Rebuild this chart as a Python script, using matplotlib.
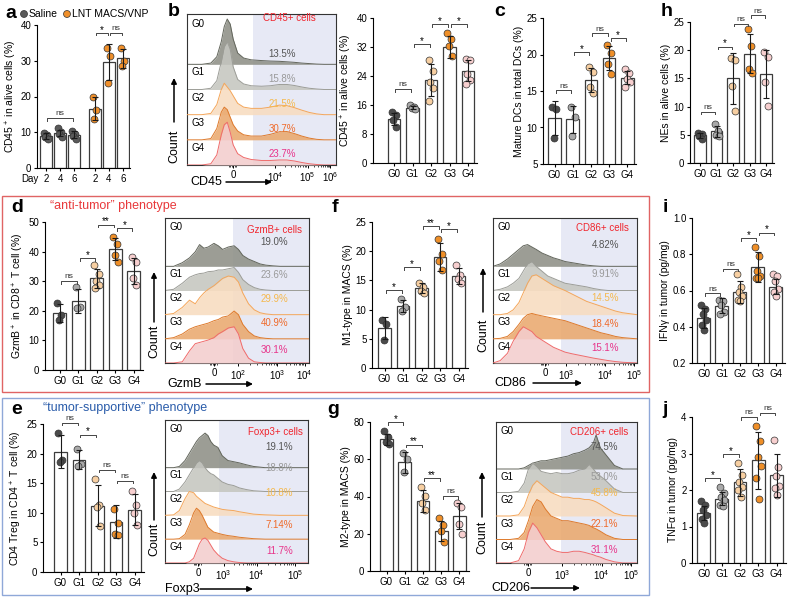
import numpy as np
import matplotlib

matplotlib.use("Agg")
import matplotlib.pyplot as plt

plt.rcParams["font.family"] = ["Liberation Sans", "DejaVu Sans"]
plt.rcParams["mathtext.default"] = "regular"
plt.rcParams["axes.linewidth"] = 0.8

W, H = 790, 597
GROUPS = ["G0", "G1", "G2", "G3", "G4"]

# ---- bar chart data ----
A_LABELS = ["2", "4", "6", "2", "4", "6"]
A_MEAN = [9.0, 9.8, 9.3, 16.6, 29.6, 30.7]
A_SD = [0.8, 0.9, 1.0, 3.2, 5.1, 2.6]
A_PTS = [[9.9, 9.3, 8.6, 8.2], [11.2, 10.2, 9.4, 8.7], [10.3, 9.6, 9.0, 8.2],
         [20.0, 16.1, 13.7], [33.7, 31.3, 23.8], [33.5, 30.0, 28.6]]
A_SIG = [(0, 2, 14.0, "ns"), (3, 4, 37.8, "*"), (4, 5, 37.8, "ns")]

B_MEAN = [12.2, 15.3, 22.9, 31.9, 25.5]
B_SD = [1.6, 0.5, 4.3, 3.0, 3.0]
B_PTS = [[14.0, 13.3, 12.0, 9.9], [15.9, 15.5, 15.2, 14.8],
         [28.3, 25.5, 22.3, 20.7, 17.2], [36.0, 34.2, 32.4, 29.6],
         [28.7, 28.4, 24.6, 22.8, 21.8]]
B_SIG = [(0, 1, 20.4, "ns"), (1, 2, 32.8, "*"), (2, 3, 38.3, "*"), (3, 4, 38.3, "*")]

C_MEAN = [11.3, 11.1, 16.5, 19.5, 16.8]
C_SD = [2.3, 1.9, 1.7, 1.6, 0.9]
C_PTS = [[12.8, 12.5, 8.6], [12.8, 11.5, 8.8], [18.3, 17.6, 15.6, 14.7],
         [21.3, 20.2, 18.7, 17.3], [18.0, 17.4, 16.6, 16.2, 15.6]]
C_SIG = [(0, 1, 15.1, "ns"), (1, 2, 20.3, "*"), (2, 3, 22.9, "ns"), (3, 4, 22.2, "*")]

HN_MEAN = [4.9, 5.6, 15.0, 19.4, 15.8]
HN_SD = [0.5, 1.0, 4.5, 3.5, 4.3]
HN_PTS = [[5.4, 5.1, 4.8, 4.2], [6.9, 5.6, 5.0, 4.8], [18.6, 18.3, 13.7, 9.2],
          [23.7, 20.8, 16.7, 16.0], [19.6, 18.8, 14.4, 10.1]]
HN_SIG = [(0, 1, 9.1, "ns"), (1, 2, 20.6, "*"), (2, 3, 24.7, "ns"), (3, 4, 26.2, "ns")]

D_MEAN = [19.3, 23.4, 31.0, 40.8, 33.4]
D_SD = [3.0, 4.0, 3.2, 3.8, 4.5]
D_PTS = [[22.5, 18.6, 16.8], [28.2, 21.4, 20.8], [35.5, 32.6, 30.0, 28.8, 27.8],
         [45.1, 42.6, 38.9, 36.5], [38.3, 36.6, 31.2, 28.6]]
D_SIG = [(0, 1, 30.1, "ns"), (1, 2, 37.8, "*"), (2, 3, 49.1, "**"), (3, 4, 48.0, "*")]

F_MEAN = [6.8, 10.6, 13.7, 19.0, 15.7]
F_SD = [1.9, 1.0, 0.9, 2.4, 1.4]
F_PTS = [[8.2, 7.6, 4.8], [11.8, 10.4, 9.7], [14.6, 13.9, 13.2, 12.8],
         [22.1, 19.5, 18.4, 16.8], [17.6, 15.9, 15.2, 14.6]]
F_SIG = [(0, 1, 13.3, "*"), (1, 2, 17.3, "*"), (2, 3, 24.3, "**"), (3, 4, 23.8, "*")]

I_MEAN = [0.450, 0.516, 0.592, 0.730, 0.622]
I_SD = [0.055, 0.04, 0.06, 0.085, 0.04]
I_PTS = [[0.52, 0.50, 0.47, 0.44, 0.41, 0.38], [0.55, 0.54, 0.52, 0.48, 0.47],
         [0.69, 0.62, 0.59, 0.57, 0.55, 0.54], [0.84, 0.79, 0.71, 0.68, 0.67, 0.67],
         [0.69, 0.68, 0.65, 0.61, 0.59, 0.57]]
I_SIG = [(0, 1, 0.585, "ns"), (1, 2, 0.72, "ns"), (2, 3, 0.89, "*"), (3, 4, 0.92, "*")]

E_MEAN = [20.3, 19.0, 11.2, 8.5, 10.5]
E_SD = [2.8, 1.6, 3.5, 2.8, 2.6]
E_PTS = [[23.4, 19.0, 18.5], [20.7, 18.3, 17.9], [15.7, 11.4, 11.0, 7.8],
         [10.7, 8.3, 6.5, 6.2], [13.7, 11.3, 10.0, 8.0]]
E_SIG = [(0, 1, 25.2, "ns"), (1, 2, 23.2, "*"), (2, 3, 17.3, "ns"), (3, 4, 15.4, "ns")]

G_MEAN = [70.8, 58.3, 37.5, 21.5, 29.5]
G_SD = [3.0, 5.5, 6.0, 5.5, 7.0]
G_PTS = [[75.0, 72.0, 69.5, 68.0], [63.3, 60.0, 53.4], [45.0, 40.5, 36.5, 33.0],
         [28.5, 24.5, 21.5, 15.5], [36.3, 34.5, 25.5, 20.0]]
G_SIG = [(0, 1, 79.9, "*"), (1, 2, 67.8, "**"), (2, 3, 49.8, "**"), (3, 4, 40.3, "ns")]

J_MEAN = [1.37, 1.76, 2.21, 2.81, 2.40]
J_SD = [0.20, 0.18, 0.37, 0.78, 0.60]
J_PTS = [[1.70, 1.58, 1.45, 1.32, 1.20, 1.10], [2.08, 1.92, 1.80, 1.72, 1.60, 1.55],
         [2.74, 2.40, 2.22, 2.08, 2.00, 1.80], [3.74, 3.33, 2.90, 2.65, 2.34, 1.75],
         [3.36, 2.62, 2.38, 2.12, 2.06, 1.85]]
J_SIG = [(0, 1, 2.33, "*"), (1, 2, 2.98, "*"), (2, 3, 4.0, "ns"), (3, 4, 4.12, "ns")]

# ---- flow histogram data (row heights, in row units) ----
HB_X = [0.00, 0.10, 0.16, 0.20, 0.23, 0.25, 0.27, 0.29, 0.31, 0.34, 0.38, 0.43,
        0.50, 0.56, 0.62, 0.67, 0.72, 0.77, 0.82, 0.87, 0.92, 0.96, 1.00]
HB_ROWS = [
    [0, 0, 0.05, 0.3, 0.9, 1.5, 1.8, 1.6, 1.0, 0.45, 0.25, 0.18, 0.15, 0.13, 0.12, 0.1, 0.08, 0.05, 0.03, 0.01, 0, 0, 0],
    [0, 0, 0.05, 0.35, 1.1, 1.7, 1.9, 1.6, 0.9, 0.4, 0.22, 0.15, 0.13, 0.15, 0.2, 0.2, 0.16, 0.1, 0.05, 0.02, 0, 0, 0],
    [0, 0, 0.05, 0.4, 1.0, 1.25, 1.1, 0.95, 0.75, 0.45, 0.3, 0.25, 0.25, 0.3, 0.38, 0.36, 0.28, 0.18, 0.09, 0.03, 0, 0, 0],
    [0, 0, 0.05, 0.45, 1.1, 1.3, 1.2, 0.9, 0.6, 0.35, 0.2, 0.15, 0.15, 0.22, 0.32, 0.33, 0.25, 0.15, 0.07, 0.02, 0, 0, 0],
    [0, 0, 0.05, 0.4, 1.2, 1.6, 1.7, 1.3, 0.8, 0.45, 0.3, 0.22, 0.18, 0.18, 0.2, 0.2, 0.16, 0.1, 0.05, 0.02, 0, 0, 0],
]
HB_PCT = ["13.5%", "15.8%", "21.5%", "30.7%", "23.7%"]

HD_X = [0, 0.06, 0.12, 0.17, 0.21, 0.24, 0.27, 0.30, 0.34, 0.37, 0.40, 0.44,
        0.48, 0.51, 0.54, 0.58, 0.62, 0.66, 0.70, 0.75, 0.80, 0.90, 1.0]
HD_ROWS = [
    [0, 0, 0.15, 0.35, 0.6, 0.9, 0.75, 0.8, 0.95, 0.85, 0.7, 0.8, 0.85, 0.7, 0.45, 0.3, 0.2, 0.1, 0.05, 0.02, 0, 0, 0],
    [0, 0.05, 0.3, 0.55, 0.65, 0.7, 0.72, 0.78, 0.8, 0.85, 0.85, 0.9, 0.95, 0.75, 0.45, 0.25, 0.12, 0.05, 0.02, 0, 0, 0, 0],
    [0, 0.05, 0.3, 0.6, 0.45, 0.7, 0.9, 1.05, 1.2, 1.35, 1.5, 1.6, 1.55, 1.35, 0.9, 0.45, 0.2, 0.08, 0.03, 0, 0, 0, 0],
    [0, 0.05, 0.2, 0.4, 0.5, 0.55, 0.6, 0.65, 0.75, 0.8, 0.9, 0.95, 1.15, 1.0, 0.6, 0.3, 0.12, 0.05, 0.02, 0, 0, 0, 0],
    [0, 0, 0.05, 0.5, 0.8, 0.85, 0.9, 0.95, 1.05, 1.2, 1.3, 1.45, 1.5, 1.2, 0.6, 0.2, 0.05, 0.02, 0, 0, 0, 0, 0],
]
HD_PCT = ["19.0%", "23.6%", "29.9%", "40.9%", "30.1%"]

HF_X = [0, 0.05, 0.10, 0.14, 0.18, 0.21, 0.24, 0.27, 0.30, 0.34, 0.38, 0.42,
        0.46, 0.50, 0.55, 0.60, 0.65, 0.70, 0.75, 0.80, 0.85, 0.90, 1.0]
HF_ROWS = [
    [0, 0.1, 0.3, 0.5, 0.7, 0.85, 0.9, 0.8, 0.7, 0.55, 0.45, 0.35, 0.28, 0.2, 0.15, 0.1, 0.05, 0.02, 0, 0, 0, 0, 0],
    [0, 0.05, 0.15, 0.3, 0.5, 0.8, 1.1, 1.2, 1.0, 0.8, 0.6, 0.5, 0.4, 0.3, 0.25, 0.2, 0.15, 0.08, 0.03, 0, 0, 0, 0],
    [0, 0, 0.05, 0.2, 0.5, 0.9, 1.3, 1.6, 1.65, 1.5, 1.35, 1.2, 1.1, 1.0, 0.85, 0.7, 0.55, 0.45, 0.35, 0.25, 0.15, 0.08, 0],
    [0, 0.02, 0.1, 0.3, 0.6, 0.85, 1.0, 1.05, 1.0, 0.95, 0.9, 0.85, 0.8, 0.75, 0.65, 0.55, 0.45, 0.35, 0.25, 0.18, 0.1, 0.05, 0],
    [0, 0.1, 0.4, 0.9, 1.3, 1.5, 1.4, 1.3, 1.1, 0.95, 0.8, 0.65, 0.55, 0.45, 0.38, 0.32, 0.26, 0.2, 0.15, 0.1, 0.06, 0.03, 0],
]
HF_PCT = ["4.82%", "9.91%", "14.5%", "18.4%", "15.1%"]

HE_X = [0, 0.06, 0.10, 0.14, 0.17, 0.20, 0.22, 0.24, 0.26, 0.28, 0.30, 0.32,
        0.34, 0.37, 0.40, 0.44, 0.48, 0.52, 0.57, 0.62, 0.70, 0.80, 1.0]
HE_ROWS = [
    [0, 0, 0.05, 0.3, 0.6, 0.9, 1.1, 1.25, 1.35, 1.45, 1.35, 1.1, 0.95, 0.85, 0.5, 0.3, 0.25, 0.2, 0.12, 0.05, 0, 0, 0],
    [0, 0, 0.1, 0.4, 0.7, 1.0, 1.2, 1.3, 1.2, 1.0, 0.85, 0.75, 0.7, 0.55, 0.4, 0.3, 0.25, 0.15, 0.08, 0.03, 0, 0, 0],
    [0, 0.02, 0.2, 0.7, 1.0, 0.95, 0.8, 0.7, 0.6, 0.5, 0.45, 0.4, 0.35, 0.3, 0.25, 0.22, 0.2, 0.15, 0.1, 0.05, 0.02, 0, 0],
    [0, 0, 0.02, 0.2, 0.6, 1.1, 1.3, 1.2, 1.0, 0.75, 0.5, 0.4, 0.3, 0.25, 0.2, 0.15, 0.12, 0.08, 0.05, 0.02, 0, 0, 0],
    [0, 0, 0, 0, 0.05, 0.2, 0.5, 0.8, 1.0, 1.05, 0.95, 0.75, 0.55, 0.35, 0.2, 0.1, 0.05, 0.02, 0, 0, 0, 0, 0],
]
HE_PCT = ["19.1%", "18.8%", "10.8%", "7.14%", "11.7%"]

HG_X = [0, 0.10, 0.16, 0.20, 0.23, 0.26, 0.29, 0.32, 0.35, 0.39, 0.43, 0.47,
        0.51, 0.55, 0.59, 0.63, 0.66, 0.69, 0.71, 0.74, 0.78, 0.84, 0.90, 1.0]
HG_ROWS = [
    [0, 0, 0, 0.05, 0.15, 0.25, 0.3, 0.35, 0.35, 0.4, 0.45, 0.5, 0.55, 0.65, 0.7, 0.8, 0.9, 1.1, 1.45, 0.9, 0.6, 0.15, 0, 0],
    [0, 0, 0.05, 0.4, 1.0, 1.25, 1.1, 0.9, 0.85, 0.8, 0.85, 0.8, 0.8, 0.85, 0.95, 1.0, 1.2, 1.0, 0.85, 0.7, 0.5, 0.15, 0, 0],
    [0, 0, 0.05, 0.4, 0.9, 1.3, 1.5, 1.35, 1.2, 1.0, 0.9, 0.8, 0.8, 0.75, 0.75, 0.7, 0.7, 0.65, 0.6, 0.5, 0.35, 0.12, 0.02, 0],
    [0, 0, 0.05, 0.3, 0.8, 1.4, 1.7, 1.6, 1.3, 1.0, 0.9, 0.8, 0.8, 0.75, 0.7, 0.65, 0.6, 0.5, 0.45, 0.35, 0.2, 0.05, 0, 0],
    [0, 0, 0.1, 0.6, 1.3, 1.7, 1.5, 1.2, 0.9, 0.6, 0.5, 0.45, 0.45, 0.5, 0.5, 0.45, 0.4, 0.35, 0.3, 0.25, 0.15, 0.05, 0, 0],
]
HG_PCT = ["74.5%", "53.0%", "45.8%", "22.1%", "31.1%"]

# ---- styling ----
GROUP_COLORS = ["#4b4b4b", "#a9a9a9", "#f7cfa2", "#ef8f28", "#f7cfcf"]
SALINE, LNT = "#5a5a5a", "#f0902b"
H_FILL = ["#8e9087", "#c5c6c0", "#f8dcc0", "#eaa96e", "#f3cdcd"]
H_EDGE = ["#63665c", "#9c9d97", "#f4a65a", "#de7a2c", "#ef6b6b"]
PCT_COLORS = ["#555555", "#9a9a9a", "#f5b94e", "#ef6a2a", "#e8348a"]
LAVENDER = "#e7e9f5"
GATE_RED = "#f0262e"
JITTER = np.array([-0.12, 0.1, -0.04, 0.13, -0.1, 0.05])

fig = plt.figure(figsize=(7.9, 5.97), dpi=100)


def rect(l, t, r, b):
    return [l / W, 1 - b / H, (r - l) / W, (b - t) / H]


def bar_panel(left, top, bottom, x0, step, ylim, yticks, means, sds, pts, colors,
              sigs, ylabel, xpos=None, xlabels=GROUPS, width=0.7, labelpad=2):
    if xpos is None:
        xpos = np.arange(len(means))
    xpos = np.asarray(xpos, dtype=float)
    lo = -(x0 - left) / step
    hi = xpos[-1] + 0.5
    ax = fig.add_axes(rect(left, top, left + (hi - lo) * step, bottom))
    ax.patch.set_alpha(0)
    ax.bar(xpos, means, width=width, color="white", edgecolor="#3c3c3c",
           linewidth=0.9, zorder=1)
    for x, vals, c in zip(xpos, pts, colors):
        ax.scatter(x + JITTER[:len(vals)], vals, s=25, color=c,
                   edgecolor="#333333", linewidth=0.5, zorder=3)
    ax.errorbar(xpos, means, yerr=sds, fmt="none", ecolor="#1a1a1a",
                elinewidth=0.8, capsize=2.2, capthick=0.8, zorder=4)
    span = ylim[1] - ylim[0]
    for i, j, y, lab in sigs:
        xa, xb = xpos[i] + 0.08, xpos[j] - 0.08
        d = span * 0.018
        ax.plot([xa, xa, xb, xb], [y - d, y, y, y - d], color="#444444",
                lw=0.7, clip_on=False, zorder=5)
        ax.text((xa + xb) / 2, y + span * (0.004 if lab == "ns" else -0.012), lab,
                ha="center", va="bottom", fontsize=6 if lab == "ns" else 7,
                color="#333333" if lab == "ns" else "black", clip_on=False)
    ax.set_xlim(lo, hi)
    ax.set_ylim(*ylim)
    ax.set_yticks(yticks)
    ax.set_xticks(xpos)
    ax.set_xticklabels(xlabels)
    ax.spines[["top", "right"]].set_visible(False)
    ax.tick_params(length=2.5, width=0.8, labelsize=7, pad=1.5)
    ax.set_ylabel(ylabel, fontsize=7.5, labelpad=labelpad)
    return ax


def hist_panel(l, t, r, b, x, rows, gate, ticks, ticklabels, pcts, pct_x, pct_dy,
               gate_label, gate_xy):
    ax = fig.add_axes(rect(l, t, r, b))
    ax.set_xlim(0, 1)
    ax.set_ylim(0, 6)
    ax.axvspan(gate, 1, color=LAVENDER, lw=0, zorder=0)
    for i, h in enumerate(rows):
        base = 4 - i
        y = base + np.asarray(h)
        ax.fill_between(x, base, y, color=H_FILL[i], alpha=0.88, lw=0, zorder=1 + i)
        ax.plot(x, y, color=H_EDGE[i], lw=0.7, zorder=1 + i)
        ax.text(0.03, 5.62 if i == 0 else base + 0.68, GROUPS[i], fontsize=7,
                va="center", zorder=10)
        ax.text(pct_x, base + pct_dy[i], pcts[i], color=PCT_COLORS[i], fontsize=7,
                ha="center", va="center", zorder=10)
    ax.text(gate_xy[0], gate_xy[1], gate_label, color=GATE_RED, fontsize=7,
            ha="center", va="center", zorder=10)
    ax.set_xticks(ticks)
    ax.set_xticklabels(ticklabels)
    minor = [ticks[0] + d for d in (-0.03, -0.02, -0.01, 0.01, 0.02)]
    for k in range(1, len(ticks) - 1):
        a0, a1 = ticks[k], ticks[k + 1]
        minor += [a0 + np.log10(m) * (a1 - a0) for m in range(2, 10)]
    ax.set_xticks([m for m in minor if 0 < m < 1], minor=True)
    ax.set_yticks([])
    ax.tick_params(axis="x", which="major", length=2.5, width=0.7, labelsize=7, pad=1)
    ax.tick_params(axis="x", which="minor", length=1.5, width=0.5)
    for s in ax.spines.values():
        s.set_color("#333333")
        s.set_linewidth(0.8)
    return ax


# row 1
bar_panel(37, 25, 168, 46, 14.0, (0, 40), range(0, 41, 10), A_MEAN, A_SD, A_PTS,
          [SALINE] * 3 + [LNT] * 3, A_SIG, "CD45$^+$ in alive cells (%)",
          xpos=[0, 1, 2, 3.5, 4.5, 5.5], xlabels=A_LABELS, width=0.8, labelpad=1)
hist_panel(187, 14, 336, 165, HB_X, HB_ROWS, 0.44, [0.31, 0.59, 0.81, 0.96],
           ["0", "$10^4$", "$10^5$", "$10^6$"], HB_PCT, 0.64, [0.42] * 5,
           "CD45+ cells", (0.69, 5.85))
bar_panel(373, 18, 163, 394, 18.5, (0, 40), range(0, 41, 8), B_MEAN, B_SD, B_PTS,
          GROUP_COLORS, B_SIG, "CD45$^+$ in alive cells (%)")
bar_panel(543, 18, 164, 554.5, 18.2, (5, 25), range(5, 26, 5), C_MEAN, C_SD, C_PTS,
          GROUP_COLORS, C_SIG, "Mature DCs in total DCs (%)")
bar_panel(690, 22, 163, 700, 16.5, (0, 25), range(0, 26, 5), HN_MEAN, HN_SD, HN_PTS,
          GROUP_COLORS, HN_SIG, "NEs in alive cells (%)")

# row 2
bar_panel(45, 222, 370, 59.5, 18.6, (0, 50), range(0, 51, 10), D_MEAN, D_SD, D_PTS,
          GROUP_COLORS, D_SIG, "GzmB$^+$ in CD8$^+$ T cell (%)")
hist_panel(165, 218, 309, 363, HD_X, HD_ROWS, 0.47, [0.34, 0.51, 0.78, 0.97],
           ["0", "$10^2$", "$10^3$", "$10^4$"], HD_PCT, 0.76, [1.0, 0.65, 0.65, 0.65, 0.55],
           "GzmB+ cells", (0.76, 5.5))
bar_panel(372, 222, 368, 384.5, 18.5, (0, 25), range(0, 26, 5), F_MEAN, F_SD, F_PTS,
          GROUP_COLORS, F_SIG, "M1-type in MACS (%)")
hist_panel(493, 218, 637, 363, HF_X, HF_ROWS, 0.47, [0.36, 0.51, 0.78, 0.98],
           ["0", "$10^3$", "$10^4$", "$10^5$"], HF_PCT, 0.78, [0.9, 0.67, 0.7, 0.63, 0.63],
           "CD86+ cells", (0.76, 5.6))
bar_panel(692, 218, 363, 703.5, 18.0, (0.2, 1.0), [0.2, 0.4, 0.6, 0.8, 1.0], I_MEAN,
          I_SD, I_PTS, GROUP_COLORS, I_SIG, "IFNγ in tumor (pg/mg)")

# row 3
bar_panel(43, 424, 572, 60.5, 18.5, (0, 25), range(0, 26, 5), E_MEAN, E_SD, E_PTS,
          GROUP_COLORS, E_SIG, "CD4 Treg in CD4$^+$ T cell (%)")
hist_panel(165, 420, 308, 563, HE_X, HE_ROWS, 0.38, [0.23, 0.41, 0.64, 0.91],
           ["0", "$10^3$", "$10^4$", "$10^5$"], HE_PCT, 0.80, [0.85, 1.0, 0.95, 0.6, 0.5],
           "Foxp3+ cells", (0.77, 5.5))
bar_panel(370, 422, 571, 386.5, 18.25, (0, 80), range(0, 81, 20), G_MEAN, G_SD, G_PTS,
          GROUP_COLORS, G_SIG, "M2-type in MACS (%)")
hist_panel(496, 422, 637, 563, HG_X, HG_ROWS, 0.46, [0.23, 0.47, 0.75, 0.96],
           ["0", "$10^3$", "$10^4$", "$10^5$"], HG_PCT, 0.77, [0.94, 0.68, 1.0, 0.68, 0.55],
           "CD206+ cells", (0.73, 5.58))
bar_panel(692, 417, 563, 703.5, 18.25, (0, 4), range(0, 5), J_MEAN, J_SD, J_PTS,
          GROUP_COLORS, J_SIG, "TNFα in tumor (pg/mg)")

# overlay for boxes, letters, arrows
ov = fig.add_axes([0, 0, 1, 1])
ov.set_xlim(0, W)
ov.set_ylim(H, 0)
ov.axis("off")

ov.add_patch(plt.Rectangle((2, 196), 647, 196, fill=False, ec="#e06464", lw=1.0))
ov.add_patch(plt.Rectangle((2, 398), 647, 197, fill=False, ec="#8fa8d8", lw=1.0))

for letter, (lx, ly) in {"a": (11, 13), "b": (174, 11), "c": (500, 11), "h": (667, 11),
                         "d": (17, 208), "f": (335, 208), "i": (665, 208),
                         "e": (17, 409), "g": (333, 409), "j": (665, 410)}.items():
    ov.text(lx, ly, letter, fontsize=14, fontweight="bold", ha="center", va="center")

ov.scatter([24, 67], [14, 14], s=25, color=[SALINE, LNT], edgecolor="#333333", lw=0.5)
ov.text(29, 14, "Saline", fontsize=7.5, va="center")
ov.text(72, 14, "LNT MACS/VNP", fontsize=7.5, va="center")
ov.text(30, 179, "Day", fontsize=7, ha="center", va="center")

ov.text(50, 206, "\u201canti-tumor\u201d phenotype", color="#e8383a", fontsize=9, va="center")
ov.text(43, 408, "\u201ctumor-supportive\u201d phenotype", color="#2a5caa", fontsize=9,
        va="center")

arrow = dict(arrowstyle="-|>", color="black", lw=1.1, mutation_scale=8,
             shrinkA=0, shrinkB=0)
for cx, y0, y1, ty in [(174, 122, 78, 146), (154, 322, 272, 341), (483, 312, 268, 335),
                       (154, 520, 472, 539), (482, 517, 472, 537)]:
    ov.annotate("", xy=(cx, y1), xytext=(cx, y0), arrowprops=arrow)
    ov.text(cx, ty, "Count", rotation=90, fontsize=9, ha="center", va="center")

for lab, tx, ty, xa, xb in [("CD45", 206, 182, 226, 272), ("GzmB", 185, 384, 206, 253),
                            ("Foxp3", 182, 589, 200, 253), ("CD86", 510, 383, 533, 582),
                            ("CD206", 511, 588, 531, 580)]:
    ov.text(tx, ty, lab, fontsize=9, ha="center", va="center")
    ov.annotate("", xy=(xb, ty), xytext=(xa, ty), arrowprops=arrow)

fig.savefig("out.png", dpi=100)
